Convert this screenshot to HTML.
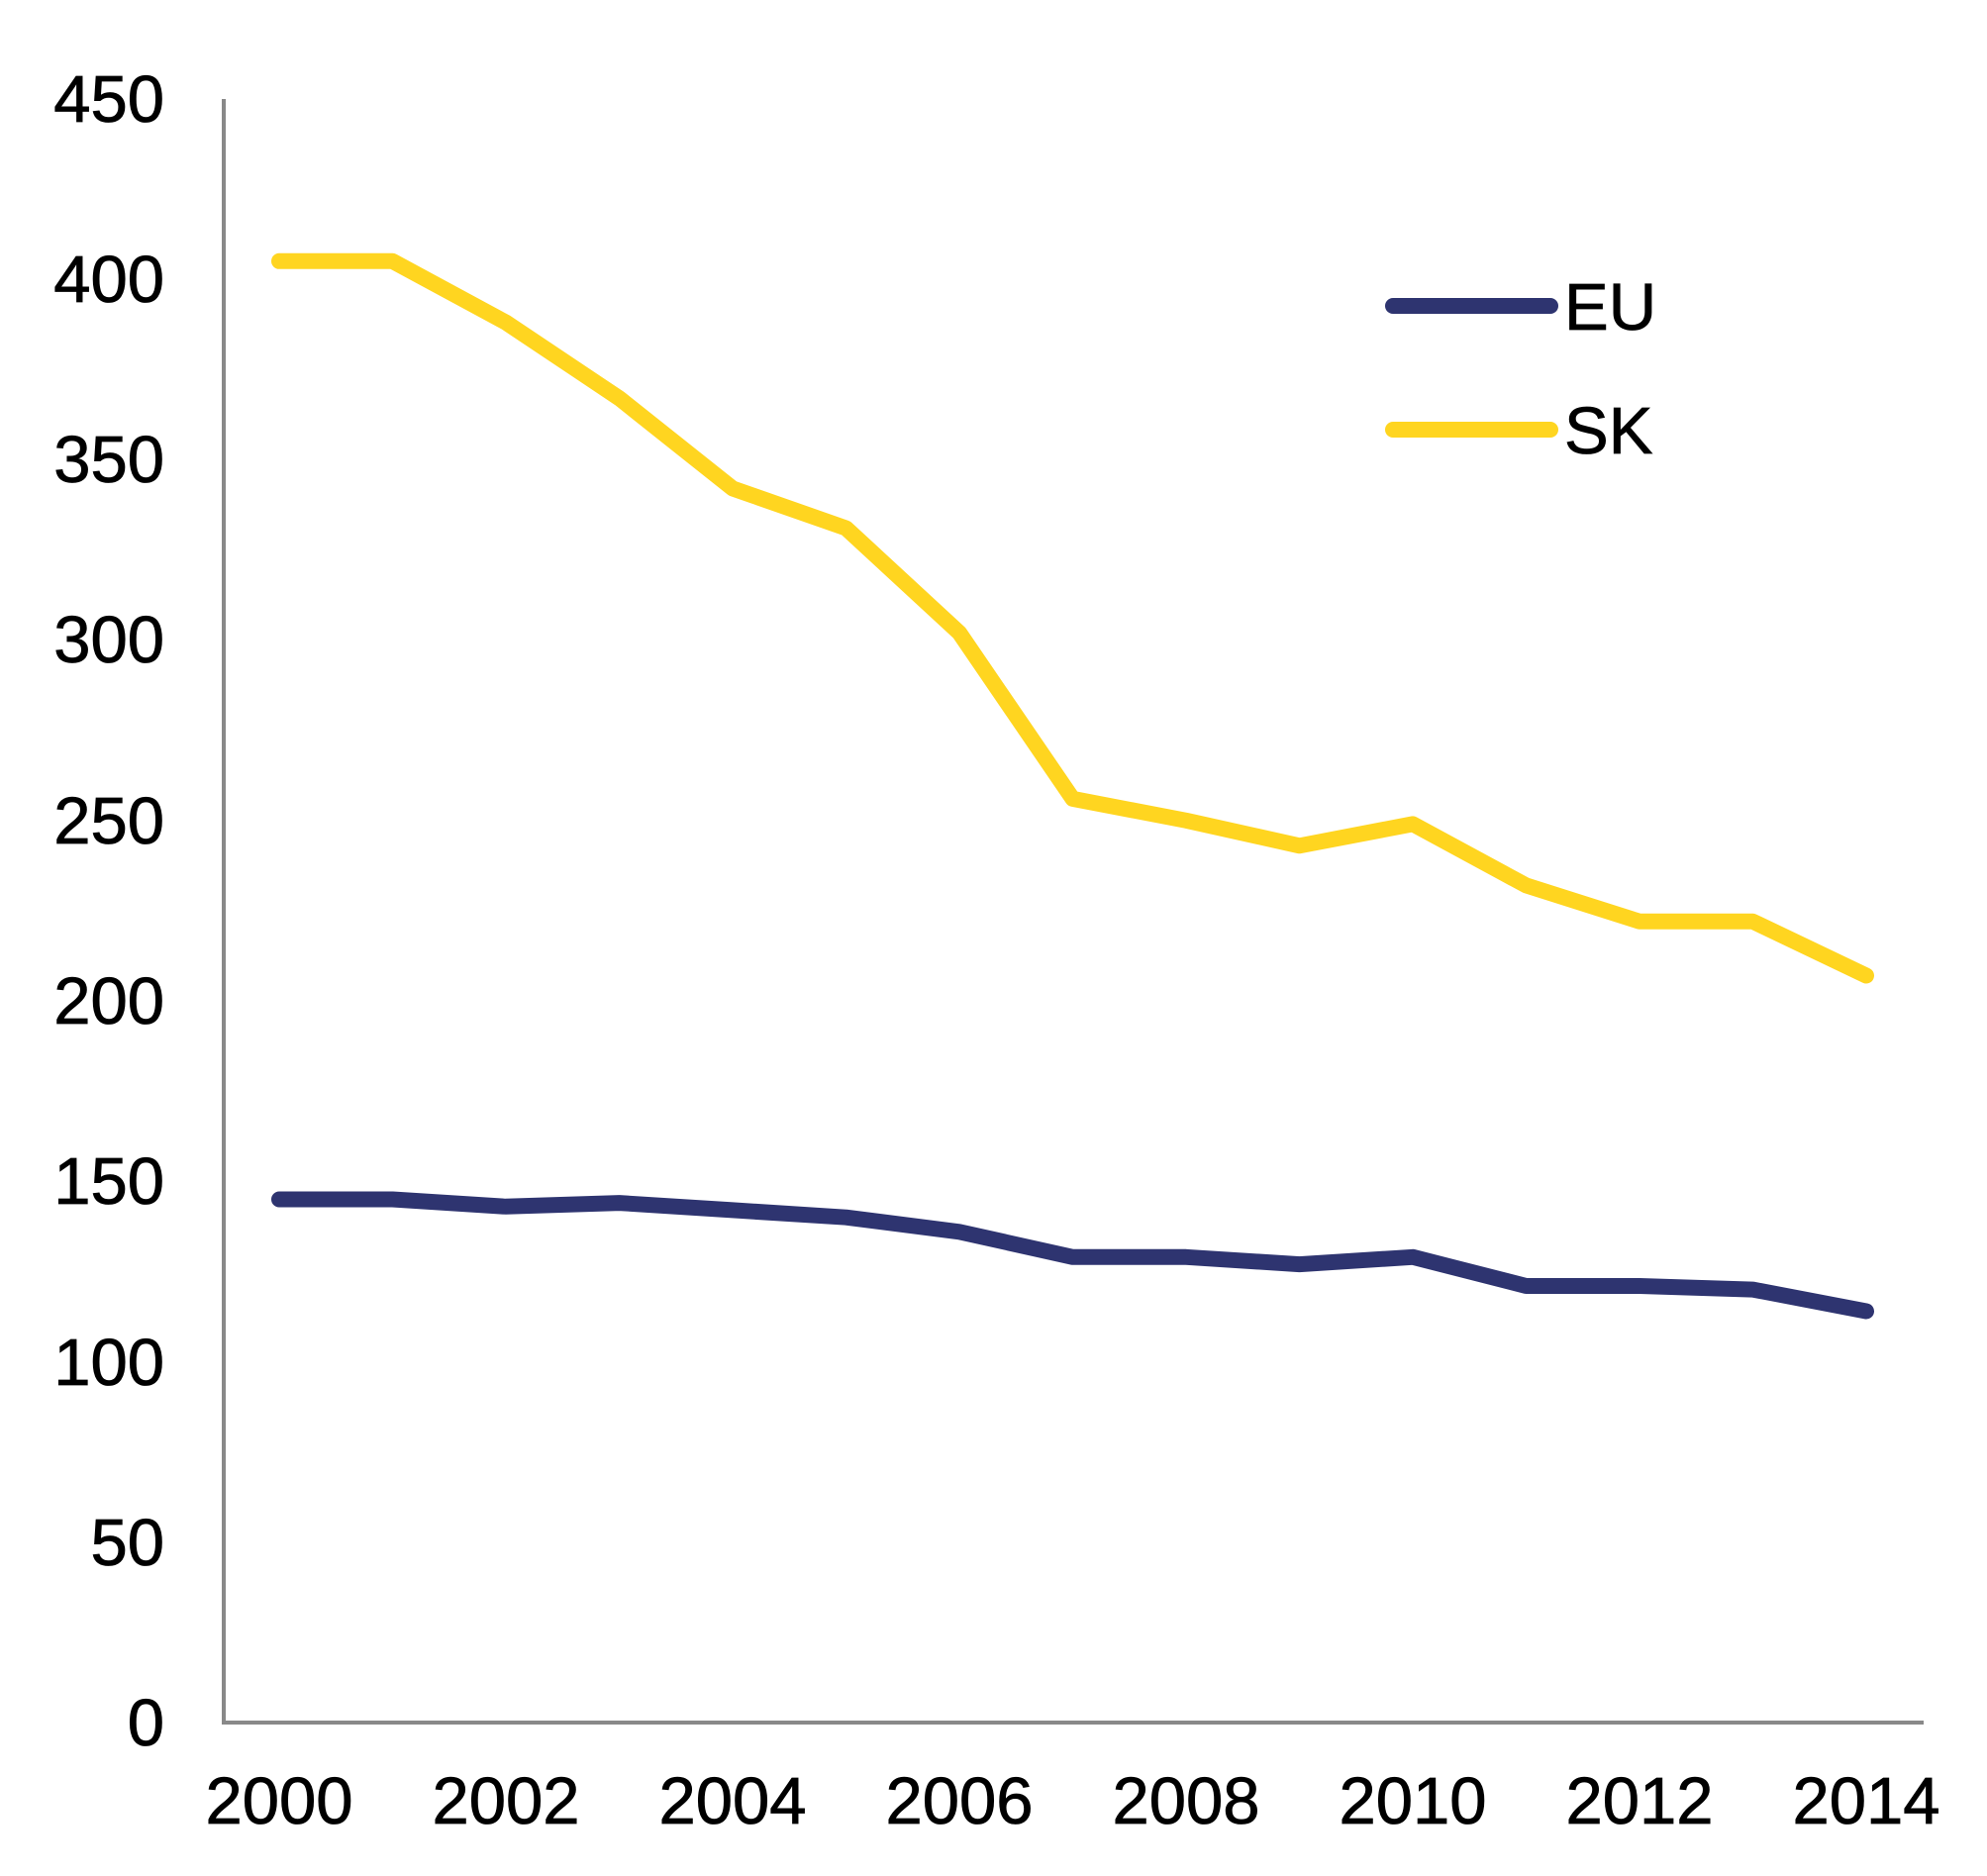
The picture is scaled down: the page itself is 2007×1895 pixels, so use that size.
<!DOCTYPE html>
<html><head><style>body{margin:0;background:#fff}</style></head><body>
<svg width="2007" height="1890" xmlns="http://www.w3.org/2000/svg" font-family="Liberation Sans, Arial, sans-serif">
<rect width="2007" height="1890" fill="#fff"/>
<line x1="226" y1="100" x2="226" y2="1740" stroke="#898989" stroke-width="4"/>
<line x1="224" y1="1740" x2="1943" y2="1740" stroke="#898989" stroke-width="4"/>
<g font-size="67" fill="#000" stroke="#000" stroke-width="0.8" text-anchor="end">
<text x="166" y="1763">0</text><text x="166" y="1581">50</text><text x="166" y="1399">100</text><text x="166" y="1216">150</text><text x="166" y="1034">200</text><text x="166" y="852">250</text><text x="166" y="669">300</text><text x="166" y="487">350</text><text x="166" y="305">400</text><text x="166" y="123">450</text>
</g>
<g font-size="67" fill="#000" stroke="#000" stroke-width="0.8" text-anchor="middle">
<text x="282" y="1842">2000</text><text x="511" y="1842">2002</text><text x="740" y="1842">2004</text><text x="969" y="1842">2006</text><text x="1198" y="1842">2008</text><text x="1427" y="1842">2010</text><text x="1656" y="1842">2012</text><text x="1885" y="1842">2014</text>
</g>
<g fill="none" stroke-width="16" stroke-linecap="round" stroke-linejoin="round">
<polyline id="sk" stroke="#FFD520" points=""/>
<polyline id="eu" stroke="#2E3470" points=""/>
<line x1="1407" y1="309" x2="1566" y2="309" stroke="#2E3470"/>
<line x1="1407" y1="434" x2="1566" y2="434" stroke="#FFD520"/>
</g>
<g font-size="67" fill="#000" stroke="#000" stroke-width="0.8">
<text x="1580" y="333">EU</text>
<text x="1580" y="458">SK</text>
</g>
<script>
var sk=[405,405,388,367,342,331,302,256,250,243,249,232,222,222,207];
var eu=[145,145,143,144,142,140,136,129,129,127,129,121,121,120,114];
function pts(d){return d.map(function(v,i){return (282+i*114.5).toFixed(1)+","+(1740-v*3.645).toFixed(1)}).join(" ")}
document.getElementById("sk").setAttribute("points",pts(sk));
document.getElementById("eu").setAttribute("points",pts(eu));
</script>
</svg>
</body></html>
